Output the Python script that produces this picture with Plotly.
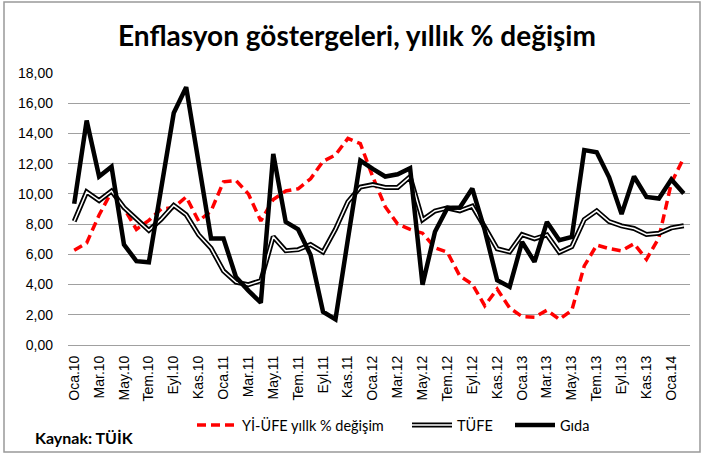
import plotly.graph_objects as go

months = ["Oca", "Şub", "Mar", "Nis", "May", "Haz", "Tem", "Ağu", "Eyl", "Eki", "Kas", "Ara"]
years = ["10", "11", "12", "13", "14"]
categories = [f"{m}.{y}" for y in years for m in months][:50]
tick_labels = categories[::2]

yi_ufe = [6.27, 6.75, 8.6, 10.15, 9.05, 7.65, 8.25, 9.0, 9.1, 9.8, 8.2, 8.87,
          10.8, 10.89, 10.0, 8.21, 9.63, 10.19, 10.34, 11.0, 12.15, 12.58, 13.67, 13.33,
          11.13, 9.15, 8.0, 7.65, 7.4, 6.44, 6.13, 4.56, 4.03, 2.6, 3.7, 2.45,
          1.88, 1.84, 2.3, 1.7, 2.3, 5.23, 6.61, 6.38, 6.23, 6.7, 5.67, 7.1,
          10.72, 12.4]
tufe = [8.19, 10.13, 9.56, 10.19, 9.10, 8.37, 7.58, 8.33, 9.24, 8.62, 7.29, 6.40,
        4.90, 4.16, 3.99, 4.26, 7.17, 6.24, 6.31, 6.65, 6.15, 7.66, 9.48, 10.45,
        10.61, 10.43, 10.43, 11.14, 8.28, 8.87, 9.07, 8.88, 9.19, 7.80, 6.37, 6.16,
        7.31, 7.03, 7.29, 6.13, 6.51, 8.30, 8.88, 8.17, 7.88, 7.71, 7.32, 7.40,
        7.75, 7.89]
gida = [9.35, 14.85, 11.15, 11.8, 6.65, 5.55, 5.47, 10.4, 15.35, 17.06, 12.0, 7.05,
        7.05, 4.5, 3.6, 2.8, 12.65, 8.15, 7.65, 5.95, 2.2, 1.7, 7.0, 12.2,
        11.65, 11.15, 11.3, 11.7, 3.98, 7.5, 9.07, 9.1, 10.35, 7.6, 4.29, 3.85,
        6.82, 5.5, 8.14, 6.93, 7.15, 12.9, 12.75, 11.1, 8.66, 11.15, 9.8, 9.69,
        10.95, 10.02]

fig = go.Figure()
fig.add_trace(go.Scatter(x=categories, y=yi_ufe, mode="lines", name="Yİ-ÜFE yıllk % değişim",
                         legend="legend",
                         line=dict(color="#ff0000", width=3.5, dash="9px,5px")))
fig.add_trace(go.Scatter(x=categories, y=tufe, mode="lines", name="TÜFE", legend="legend2",
                         line=dict(color="#000000", width=5)))
fig.add_trace(go.Scatter(x=categories, y=tufe, mode="lines", name="TÜFE", legend="legend4",
                         line=dict(color="#ffffff", width=1.5)))
fig.add_trace(go.Scatter(x=categories, y=gida, mode="lines", name="Gıda", legend="legend3",
                         line=dict(color="#000000", width=4.5)))

L, R, T, B = 68, 13, 73, 110
W, H = 703, 455
pw, ph = W - L - R, H - T - B

def px(x):
    return (x - L) / pw

def py(y):
    return (H - B - y) / ph

LY = 1 - 425 / H

def leg(x, color="black"):
    return dict(orientation="h", xref="container", yref="container",
                x=x / W, xanchor="left", y=LY, yanchor="middle",
                font=dict(family="Lato", size=14.5, color=color),
                itemwidth=40, bgcolor="rgba(0,0,0,0)", borderwidth=0)

fig.update_layout(
    width=W, height=H,
    margin=dict(l=L, r=R, t=T, b=B, autoexpand=False),
    paper_bgcolor="white", plot_bgcolor="white",
    separators=",.",
    title=dict(text="<b>Enflasyon göstergeleri, yıllık % değişim</b>",
               x=357 / W, xref="container", xanchor="center",
               y=1 - 36 / H, yref="container", yanchor="middle",
               font=dict(family="Lato", size=28, color="black")),
    xaxis=dict(type="category", categoryorder="array", categoryarray=categories,
               range=[-0.5, 49.5], tickmode="array", tickvals=tick_labels, ticktext=tick_labels,
               tickangle=-90, tickfont=dict(family="Liberation Sans", size=14, color="black"),
               showgrid=False, showline=True, linecolor="#a0a0a0", linewidth=1,
               ticks="", automargin=False, ticklabelstandoff=4),
    yaxis=dict(range=[0, 18], dtick=2, tickformat=".2f", showgrid=True,
               gridcolor="#a0a0a0", gridwidth=1, zeroline=False, showline=False,
               tickfont=dict(family="Liberation Sans", size=14, color="black"), ticks="",
               automargin=False, ticklabelstandoff=14),
    showlegend=True,
    legend=leg(192),
    legend2=leg(407),
    legend4=leg(407, "rgba(0,0,0,0)"),
    legend3=leg(510),
    shapes=[dict(type="rect", xref="paper", yref="paper",
                 x0=px(4), x1=px(700), y0=py(452), y1=py(2),
                 line=dict(color="#999999", width=1.5), fillcolor="rgba(0,0,0,0)", layer="below")],
    annotations=[dict(text="<b>Kaynak: TÜİK</b>", xref="paper", yref="paper",
                      x=px(33), y=py(437), xanchor="left", yanchor="middle", showarrow=False,
                      font=dict(family="Lato", size=16, color="black"))],
)

fig.write_html("out.html", config={"displayModeBar": False},
               post_script="document.body.style.margin='0';document.body.style.overflow='hidden';")
